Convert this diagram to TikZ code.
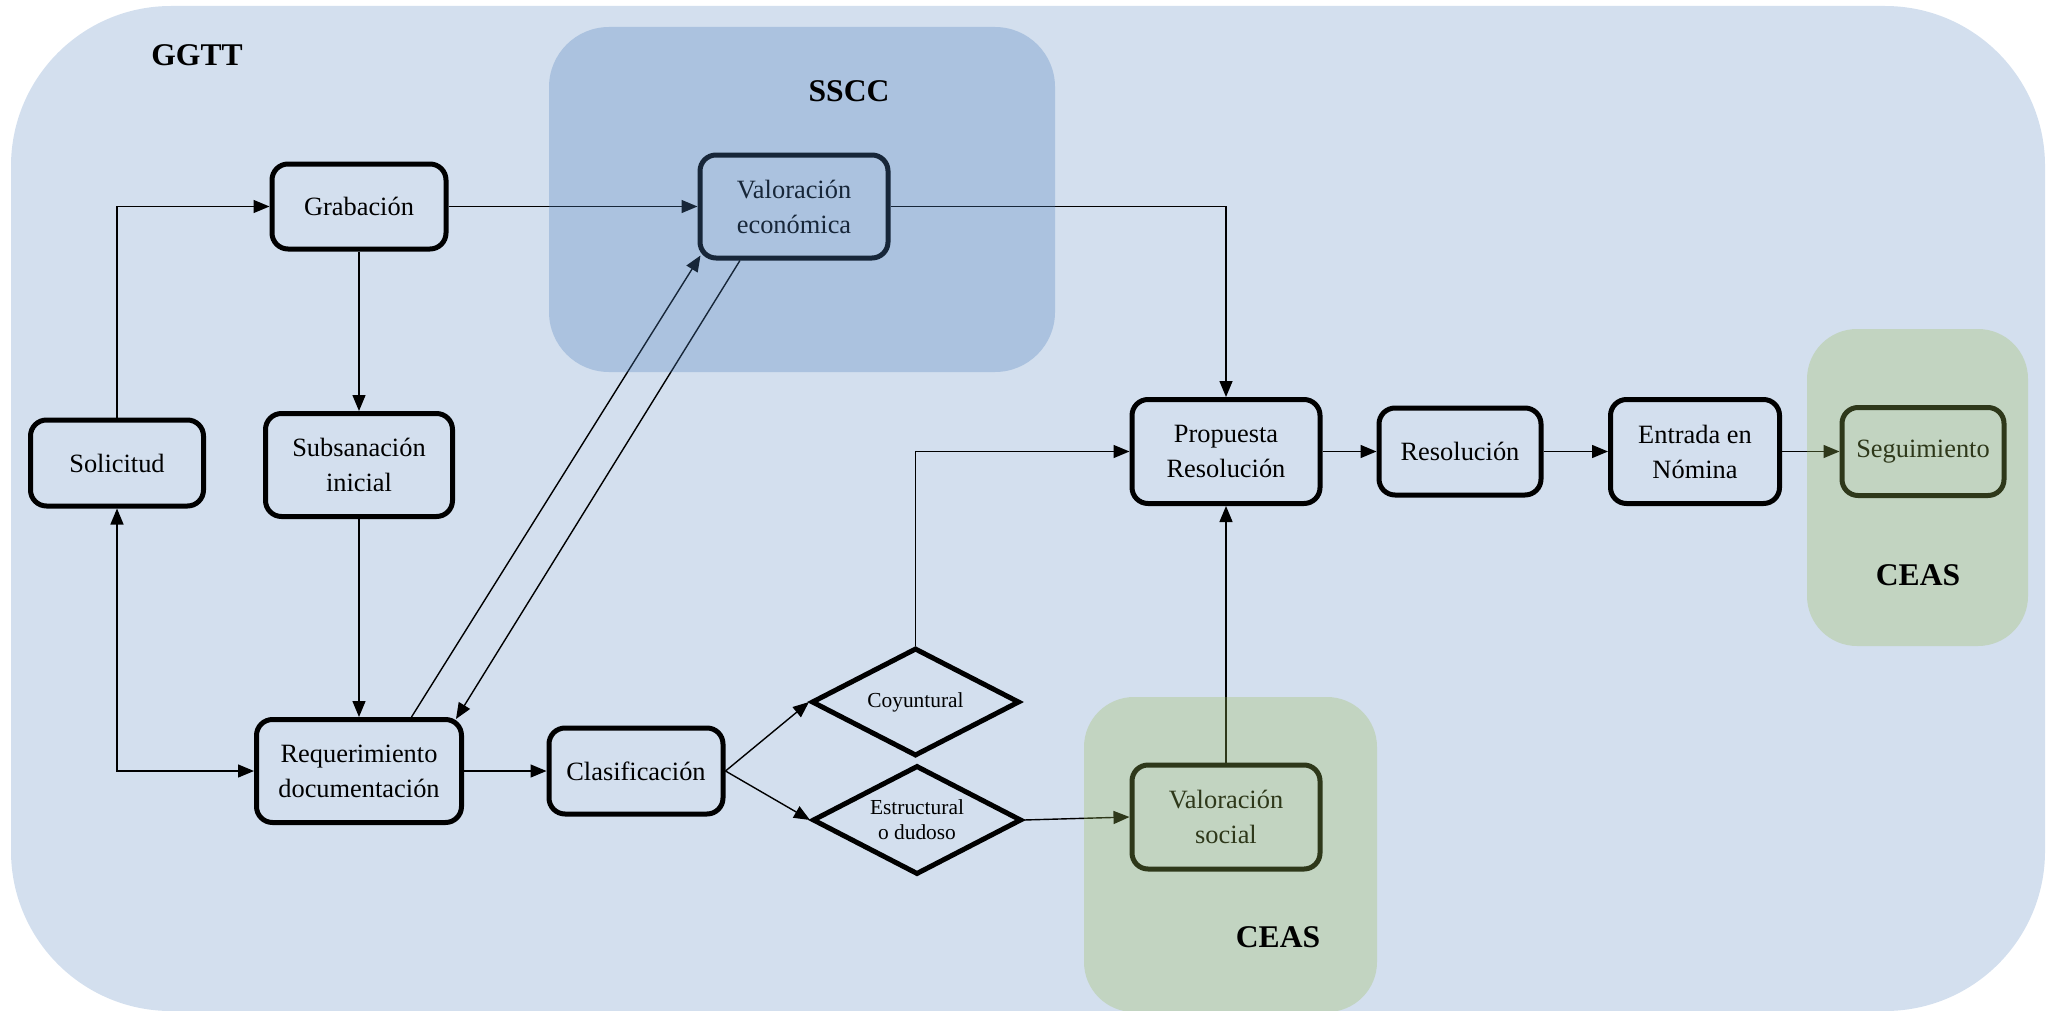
\documentclass[tikz,border=0pt]{standalone}
\usepackage{fontspec}
\setmainfont{Liberation Serif}
\usetikzlibrary{shapes.geometric,arrows.meta,calc}
\definecolor{bgblue}{HTML}{D3DFEE}
\definecolor{ovblue}{HTML}{4F81BD}
\definecolor{ovgreen}{HTML}{9BBB59}
\begin{document}
\begin{tikzpicture}[x=0.5pt,y=-0.5pt,
  >={Triangle[length=8pt,width=6.5pt]},
  box/.style={draw=black,line width=2.5pt,rounded corners=8pt,inner sep=0pt,align=center,font=\fontsize{13.2}{17.5}\selectfont},
  dia/.style={draw=black,line width=2.5pt,diamond,aspect=1.9,inner sep=0pt,align=center,font=\fontsize{10.7}{12.5}\selectfont},
  conn/.style={line width=0.7pt,->},
  region/.style={fill opacity=0.3,draw=none},
  lbl/.style={font=\fontsize{15.8}{18}\selectfont\bfseries,inner sep=0pt}]
\useasboundingbox (0,0) rectangle (2049,1011);
\fill[bgblue,rounded corners=80pt] (11,6) rectangle (2045,1011);
\node[lbl] (ggtt) at (197,55) {GGTT};

\node[box,minimum width=86.5pt,minimum height=43pt] (sol) at (117,463) {Solicitud};
\node[box,minimum width=87pt,minimum height=42.5pt] (grab) at (359,206.5) {Grabación};
\node[box,minimum width=93.5pt,minimum height=51.5pt] (sub) at (359,465) {Subsanación\\inicial};
\node[box,minimum width=102.5pt,minimum height=51.5pt] (req) at (359,771) {Requerimiento\\documentación};
\node[box,minimum width=87pt,minimum height=43pt] (clas) at (636,771) {Clasificación};
\node[box,minimum width=94pt,minimum height=51.5pt] (valec) at (794,206.5) {Valoración\\económica};
\node[dia,minimum width=104pt,minimum height=54pt] (coy) at (915.5,702) {Coyuntural};
\node[dia,minimum width=104.5pt,minimum height=54.5pt] (est) at (917,820) {Estructural\\o dudoso};
\node[box,minimum width=94pt,minimum height=52pt] (prop) at (1226,451.5) {Propuesta\\Resolución};
\node[box,minimum width=81pt,minimum height=43.5pt] (res) at (1460,451.5) {Resolución};
\node[box,minimum width=84.5pt,minimum height=52pt] (ent) at (1695,451.5) {Entrada en\\Nómina};
\node[box,minimum width=81pt,minimum height=44pt] (seg) at (1923,451.5) {Seguimiento};
\node[box,minimum width=94pt,minimum height=52pt] (vs) at (1226,817) {Valoración\\social};

\draw[conn] (sol.north) |- (grab.west);
\draw[conn] (grab.east) -- (valec.west);
\draw[conn] (valec.east) -| (prop.north);
\draw[conn] (grab.south) -- (sub.north);
\draw[conn] (sub.south) -- (req.north);
\draw[conn,<->] (sol.south) |- (req.west);
\coordinate (reqA) at ($(req.north)!0.5!(req.north east)$);
\coordinate (valA) at ($(valec.south west)+(3,-5)$);
\draw[conn] (reqA) -- (valA);
\coordinate (valB) at ($(valec.south)!0.56!(valec.south west)$);
\coordinate (reqB) at ($(req.north east)+(-8,2)$);
\draw[conn] (valB) -- (reqB);
\draw[conn] (req.east) -- (clas.west);
\draw[conn] (clas.east) -- (coy.west);
\draw[conn] (clas.east) -- (est.west);
\draw[conn] (coy.north) |- (prop.west);
\draw[conn] (est.east) -- (vs.west);
\draw[conn] (vs.north) -- (prop.south);
\draw[conn] (prop.east) -- (res.west);
\draw[conn] (res.east) -- (ent.west);
\draw[conn] (ent.east) -- (seg.west);

\fill[ovblue,region,rounded corners=30pt] (549,27) rectangle (1055,372);
\fill[ovgreen,region,rounded corners=25pt] (1084,697) rectangle (1377,1012);
\fill[ovgreen,region,rounded corners=25pt] (1807,329) rectangle (2028,646);

\node[lbl] (sscc) at (849,91.5) {SSCC};
\node[lbl] (ceasA) at (1278,937) {CEAS};
\node[lbl] (ceasB) at (1918,575) {CEAS};
\end{tikzpicture}
\end{document}
